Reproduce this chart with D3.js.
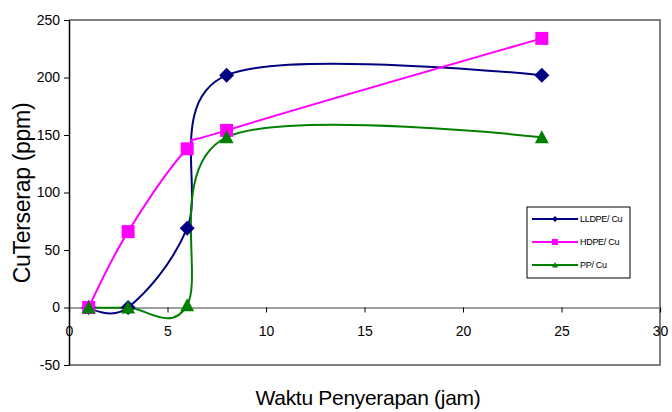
<!DOCTYPE html>
<html>
<head>
<meta charset="utf-8">
<script src="https://cdn.jsdelivr.net/npm/d3@7"></script>
<style>
  body { margin: 0; background: #fff; }
  svg { display: block; font-family: "Liberation Sans", Arial, sans-serif; }
</style>
</head>
<body>
<div id="chart"></div>
<script>
// data
const hours = [1, 3, 6, 8, 24];
const lldpeCu = [0, 0, 69, 202, 202];
const hdpeCu = [0, 66, 138, 154, 234];
const ppCu = [0, 0, 2, 148, 148];
const seriesNames = ["LLDPE/ Cu", "HDPE/ Cu", "PP/ Cu"];
const xTicks = [0, 5, 10, 15, 20, 25, 30];
const yTicks = [-50, 0, 50, 100, 150, 200, 250];

const width = 672, height = 412;
const plot = { left: 69, right: 660, top: 20, bottom: 365 };

const series = [
  { name: seriesNames[0], values: lldpeCu, color: "#000080", marker: "diamond" },
  { name: seriesNames[1], values: hdpeCu, color: "#ff00ff", marker: "square" },
  { name: seriesNames[2], values: ppCu, color: "#008000", marker: "triangle" }
];

const svg = d3.select("#chart").append("svg")
  .attr("width", width)
  .attr("height", height);

const x = d3.scaleLinear().domain([0, 30]).range([plot.left, plot.right]);
const y = d3.scaleLinear().domain([-50, 250]).range([plot.bottom, plot.top]);

// plot frame (grey top / right / bottom)
svg.append("path")
  .attr("d", `M${plot.left},${plot.top}H${plot.right}V${plot.bottom}H${plot.left}`)
  .attr("fill", "none")
  .attr("stroke", "#808080")
  .attr("stroke-width", 2);

// x axis sits on y = 0
const xAxis = svg.append("g")
  .attr("transform", `translate(0,${y(0)})`)
  .call(d3.axisBottom(x).tickValues(xTicks).tickFormat(d => String(d)).tickSize(5).tickPadding(14));
xAxis.select(".domain").attr("stroke", "#808080").attr("stroke-width", 1.5);
xAxis.selectAll(".tick line").attr("stroke", "#000");
xAxis.selectAll(".tick text")
  .attr("font-size", 14)
  .attr("font-family", "Liberation Sans, Arial, sans-serif")
  .attr("fill", "#000");

// y axis
const yAxis = svg.append("g")
  .attr("transform", `translate(${plot.left},0)`)
  .call(d3.axisLeft(y).tickValues(yTicks).tickFormat(d => String(d)).tickSize(5).tickPadding(4).tickSizeOuter(0));
yAxis.select(".domain").attr("stroke", "#000").attr("stroke-width", 1.5);
yAxis.selectAll(".tick line").attr("stroke", "#000");
yAxis.selectAll(".tick text")
  .attr("font-size", 14)
  .attr("font-family", "Liberation Sans, Arial, sans-serif")
  .attr("fill", "#000");

// Excel-like smoothed lines
const line = d3.line()
  .x((d, i) => x(hours[i]))
  .y(d => y(d))
  .curve(d3.curveCardinal.tension(0));

svg.selectAll(".series-line")
  .data(series)
  .enter()
  .append("path")
  .attr("class", "series-line")
  .attr("d", d => line(d.values))
  .attr("fill", "none")
  .attr("stroke", d => d.color)
  .attr("stroke-width", 2);

function markerPath(type, s) {
  if (type === "diamond") return `M0,${-s}L${s},0L0,${s}L${-s},0Z`;
  if (type === "square") return `M${-s},${-s}H${s}V${s}H${-s}Z`;
  return `M0,${-s}L${s},${s * 0.85}H${-s}Z`;
}
const markerSize = { diamond: 7.5, square: 6.5, triangle: 7 };

series.forEach(s => {
  svg.append("g")
    .selectAll("path")
    .data(s.values)
    .enter()
    .append("path")
    .attr("transform", (d, i) => `translate(${x(hours[i])},${y(d)})`)
    .attr("d", markerPath(s.marker, markerSize[s.marker]))
    .attr("fill", s.color);
});

// axis titles
svg.append("text")
  .attr("x", 368)
  .attr("y", 405)
  .attr("text-anchor", "middle")
  .attr("font-size", 21)
  .style("letter-spacing", "-0.3px")
  .text("Waktu Penyerapan (jam)");

svg.append("text")
  .attr("transform", "translate(30,193) rotate(-90)")
  .attr("text-anchor", "middle")
  .attr("font-size", 23)
  .style("letter-spacing", "-0.3px")
  .text("CuTerserap (ppm)");

// legend
const legend = svg.append("g").attr("transform", "translate(527,207)");
legend.append("rect")
  .attr("width", 103)
  .attr("height", 71)
  .attr("fill", "#fff")
  .attr("stroke", "#000")
  .attr("stroke-width", 1);

const items = legend.selectAll(".item")
  .data(series)
  .enter()
  .append("g")
  .attr("transform", (d, i) => `translate(0,${12 + i * 23})`);
items.append("line")
  .attr("x1", 5).attr("x2", 51)
  .attr("stroke", d => d.color)
  .attr("stroke-width", 2);
items.append("path")
  .attr("transform", "translate(28,0)")
  .attr("d", d => markerPath(d.marker, 3))
  .attr("fill", d => d.color);
items.append("text")
  .attr("x", 53)
  .attr("dy", "0.35em")
  .attr("font-size", 9)
  .style("letter-spacing", "-0.3px")
  .text(d => d.name);
</script>
</body>
</html>
